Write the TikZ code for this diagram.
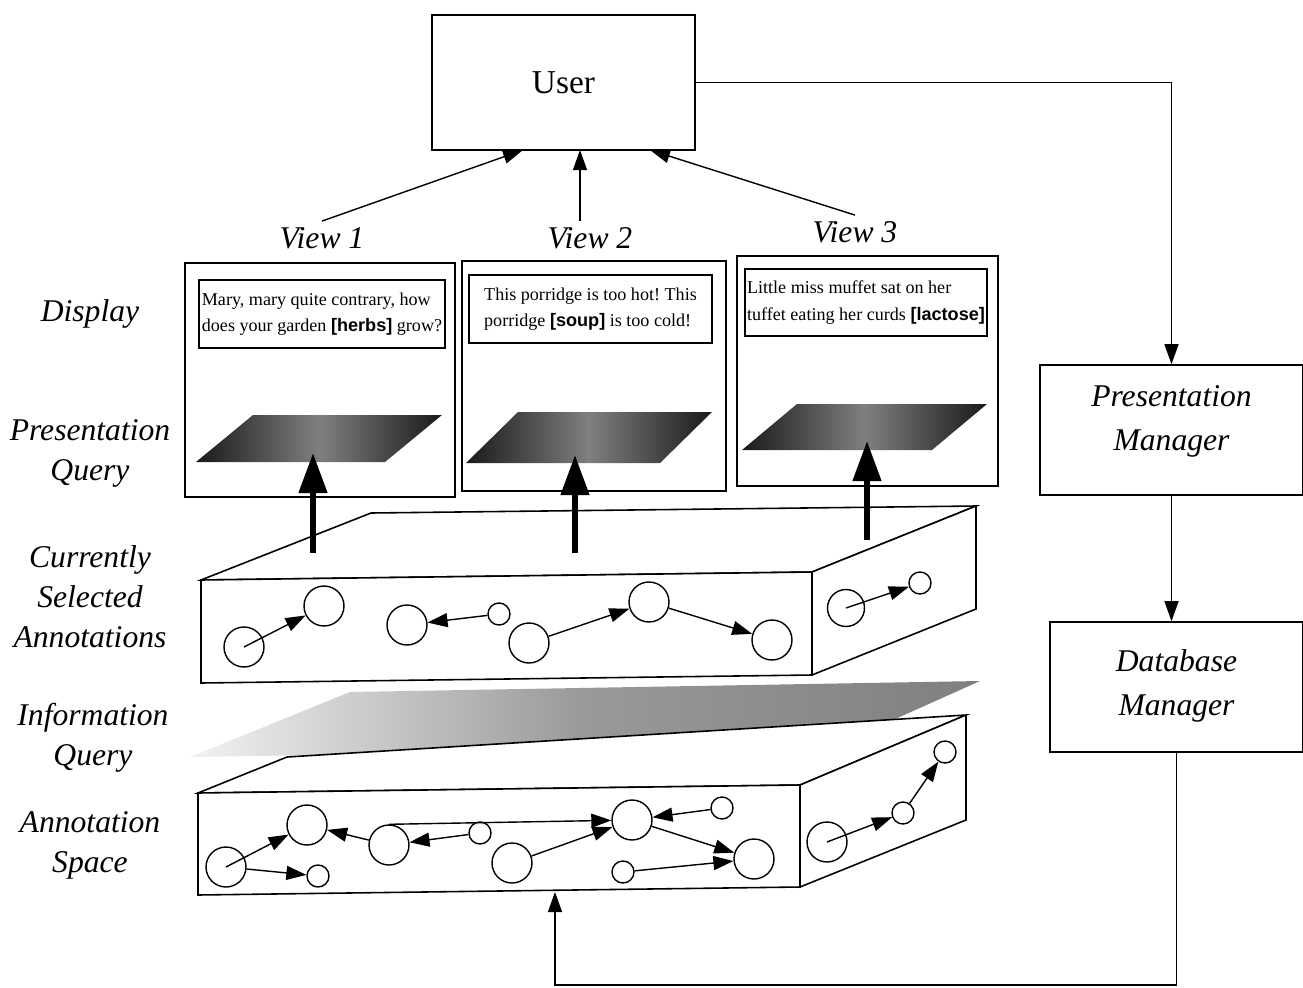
\documentclass[tikz,border=0pt]{standalone}
\usepackage{xcolor}
\usepackage{amsmath}
\usepackage{fontspec}
\setmainfont{Liberation Serif}
\setsansfont{Liberation Sans}
\usepackage{tikz}
\usetikzlibrary{positioning,shapes,arrows.meta,calc}

\tikzset{
  lbl/.style={font=\fontsize{18}{22.7}\selectfont\itshape, align=center},
  box/.style={draw, line width=0.9pt, fill=white},
  txt/.style={box, font=\fontsize{10.3}{15}\selectfont, align=left, inner sep=1pt},
  dot/.style={circle, draw, line width=0.8pt, fill=white, minimum size=0.8cm, inner sep=0pt},
  sdot/.style={dot, minimum size=0.44cm},
  arr/.style={-{Triangle[length=0.4cm,width=0.28cm]}, line width=0.8pt},
  bigarr/.style={-{Triangle[length=0.8cm,width=0.55cm]}, line width=3.4pt},
  pquery/.style={left color=black!90, right color=black!90, middle color=black!50},
}
\newcommand{\kw}[1]{{\sffamily\bfseries #1}}
\frenchspacing

\begin{document}
\begin{tikzpicture}[x=0.02cm, y=-0.02cm]
\useasboundingbox (0,0) rectangle (1303,988);

% user and the two managers
\node[box, minimum width=5.26cm, minimum height=2.7cm, font=\fontsize{19}{22}\selectfont] (user) at (563.5,82.5) {User};
\node[box, minimum width=5.26cm, minimum height=2.6cm] (pm) at (1171.5,430) {};
\node[lbl, font=\fontsize{18}{25}\selectfont\itshape] (pmtext) at (1171.5,421) {Presentation\\Manager};
\node[box, minimum width=5.06cm, minimum height=2.6cm] (db) at (1176.5,687) {};
\node[lbl, font=\fontsize{18}{25}\selectfont\itshape] (dbtext) at (1176.5,686) {Database\\Manager};

% layer labels
\node[lbl] (ldisp) at (90,314) {Display};
\node[lbl] (lpq) at (90,453) {Presentation\\Query};
\node[lbl] (lcsa) at (90,597) {Currently\\Selected\\Annotations};
\node[lbl] (liq) at (93,738) {Information\\Query};
\node[lbl] (las) at (90,845) {Annotation\\Space};

% views
\node[lbl] (v1) at (322,238) {View 1};
\node[lbl] (v2) at (590,238) {View 2};
\node[lbl] (v3) at (855,232) {View 3};
\coordinate (u1) at (523,150);
\coordinate (u2) at (580,150);
\coordinate (u3) at (650,150);
\draw[arr] (v1.north) -- (u1);
\draw[arr] (v2.north -| u2) -- (u2);
\draw[arr] (v3.north) -- (u3);

\node[box, minimum width=5.4cm, minimum height=4.68cm] (d1) at (320,380) {};
\node[box, minimum width=5.28cm, minimum height=4.6cm] (d2) at (594,376) {};
\node[box, minimum width=5.22cm, minimum height=4.6cm] (d3) at (867.5,371) {};
\node[txt, minimum width=4.92cm, minimum height=1.36cm] (q1) at (322,314)
  {Mary, mary quite contrary, how\\does your garden \kw{[herbs]} grow?};
\node[txt, minimum width=4.86cm, minimum height=1.36cm] (q2) at (590.5,309)
  {This porridge is too hot! This\\porridge \kw{[soup]} is too cold!};
\node[txt, minimum width=4.84cm, minimum height=1.34cm] (q3) at (866,302.5)
  {Little miss muffet sat on her\\tuffet eating her curds \kw{[lactose]}};

% presentation queries
\shade[pquery] (196,462) -- (385,462) -- (442,415) -- (253,415) -- cycle;
\shade[pquery] (466,463) -- (660,463) -- (712,412) -- (518,412) -- cycle;
\shade[pquery] (742,450) -- (932,450) -- (987,404) -- (797,404) -- cycle;
\coordinate (p1) at (313,453);
\coordinate (p2) at (575,455);
\coordinate (p3) at (867,441);

% currently selected annotations
\filldraw[fill=white, line width=0.9pt] (201,580) -- (371,513) -- (976,506) -- (812,572) -- cycle;
\filldraw[fill=white, line width=0.9pt] (812,572) -- (976,506) -- (976,609) -- (812,675) -- cycle;
\filldraw[fill=white, line width=0.9pt] (201,580) -- (812,572) -- (812,675) -- (201,683) -- cycle;
\coordinate (t1) at (313,553);
\coordinate (t2) at (575,553);
\coordinate (t3) at (867,540);
\draw[bigarr] (t1) -- (p1);
\draw[bigarr] (t2) -- (p2);
\draw[bigarr] (t3) -- (p3);

\node[dot] (s1) at (244,647) {};
\node[dot] (s2) at (324,606) {};
\node[dot] (s3) at (407,625) {};
\node[sdot] (s4) at (499,614) {};
\node[dot] (s5) at (529,643) {};
\node[dot] (s6) at (649,602) {};
\node[dot] (s7) at (772,640) {};
\node[dot, minimum size=0.74cm] (s8) at (846,608) {};
\node[sdot] (s9) at (920,583) {};
\draw[arr] (s1.center) -- (s2);
\draw[arr] (s4) -- (s3);
\draw[arr] (s5) -- (s6);
\draw[arr] (s6) -- (s7);
\draw[arr] (s8.center) -- (s9);

% information query
\shade[left color=black!5, right color=black!50, middle color=black!40]
  (190,757) -- (350,692) -- (980,681) -- (833,747) -- cycle;

% annotation space
\filldraw[fill=white, line width=0.9pt] (198,793) -- (287,757) -- (966,715) -- (800,785) -- cycle;
\filldraw[fill=white, line width=0.9pt] (800,785) -- (966,715) -- (966,820) -- (800,887) -- cycle;
\filldraw[fill=white, line width=0.9pt] (198,793) -- (800,785) -- (800,887) -- (198,895) -- cycle;

\node[dot] (a) at (226,867) {};
\node[dot] (b) at (307,825) {};
\node[sdot] (c) at (318,876) {};
\node[dot] (d) at (389,845) {};
\node[sdot] (e) at (480,833) {};
\node[dot] (f) at (512,863) {};
\node[dot] (g) at (632,820) {};
\node[sdot] (h) at (722,808) {};
\node[sdot] (i) at (623,872) {};
\node[dot] (j) at (754,859) {};
\node[dot] (k) at (827,842) {};
\node[sdot] (l) at (903,813) {};
\node[sdot] (m) at (945,752) {};
\draw[arr] (a.center) -- (b);
\draw[arr] (a) -- (c);
\draw[arr] (d) -- (b);
\draw[arr] (e) -- (d);
\draw[arr] (d.north) -- (g);
\draw[arr] (f) -- (g);
\draw[arr] (h) -- (g);
\draw[arr] (g) -- (j);
\draw[arr] (i) -- (j);
\draw[arr] (k.center) -- (l);
\draw[arr] (l) -- (m);

% manager links
\coordinate (asp) at (555,892);
\coordinate (turn) at (555,985);
\draw[arr] (user.east) -| (pm.north);
\draw[arr] (pm.south) -- (pm.south |- db.north);
\draw[arr] (db.south) |- (turn) -- (asp);
\end{tikzpicture}
\end{document}
